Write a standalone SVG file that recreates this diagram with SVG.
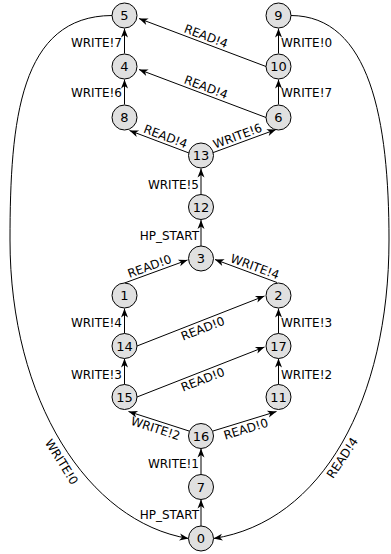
<svg xmlns="http://www.w3.org/2000/svg" width="391" height="554" viewBox="0 0 391 554">
<style>
.n circle{fill:#e0e0e0;stroke:#000;stroke-width:1}
.n text{font-family:"DejaVu Sans",sans-serif;font-size:13px;text-anchor:middle;fill:#000}
.e path,.e line{stroke:#000;stroke-width:1;fill:none;marker-end:url(#ah)}
.l{font-family:"DejaVu Sans",sans-serif;font-size:12px;fill:#000}
.r{text-anchor:end}
.m{text-anchor:middle}
</style>
<defs>
<marker id="ah" viewBox="-10 -5 11 10" refX="0" refY="0" markerWidth="11" markerHeight="10" markerUnits="userSpaceOnUse" orient="auto">
<path d="M0,0 L-9,-3.5 L-6.5,0 L-9,3.5 z" fill="#000"/>
</marker>
</defs>
<rect width="391" height="554" fill="#fff"/>
<g id="edges" class="e">
<line x1="124.5" y1="53.5" x2="124.5" y2="28.5"/>
<line x1="124.5" y1="104.5" x2="124.5" y2="79.5"/>
<line x1="278.5" y1="53.5" x2="278.5" y2="28.5"/>
<line x1="278.5" y1="104.5" x2="278.5" y2="79.5"/>
<line x1="201" y1="194.5" x2="201" y2="168.5"/>
<line x1="201" y1="246" x2="201" y2="220"/>
<line x1="124.5" y1="333.5" x2="124.5" y2="308.5"/>
<line x1="124.5" y1="384.5" x2="124.5" y2="358.5"/>
<line x1="278.5" y1="333.5" x2="278.5" y2="308.5"/>
<line x1="278.5" y1="384.5" x2="278.5" y2="358.5"/>
<line x1="201" y1="474.5" x2="201" y2="448.5"/>
<line x1="201" y1="526" x2="201" y2="499.5"/>
<line x1="266" y1="66.5" x2="139" y2="18.5"/>
<line x1="266" y1="117.5" x2="139" y2="69.5"/>
<line x1="189" y1="153" x2="129.5" y2="130.5"/>
<line x1="212" y1="153" x2="276" y2="129.5"/>
<line x1="124.5" y1="283" x2="187.5" y2="260"/>
<line x1="277" y1="282.5" x2="215" y2="259.5"/>
<line x1="137" y1="346" x2="264.5" y2="296"/>
<line x1="137" y1="397" x2="264.5" y2="347"/>
<line x1="189" y1="431" x2="128.5" y2="411.5"/>
<line x1="213" y1="431" x2="276.5" y2="411.5"/>
<path d="M112,15.5 C20,16 10,120 10,240 C10,400 88,522 188.5,538.5"/>
<path d="M291,15.5 C370,16 389,120 389,240 C389,400 322,522 213.5,538.5"/>
</g>
<g id="edge-labels">
<text class="l r" x="122" y="47">WRITE!7</text>
<text class="l r" x="122" y="97">WRITE!6</text>
<text class="l" x="281" y="47">WRITE!0</text>
<text class="l" x="281" y="97">WRITE!7</text>
<text class="l r" x="199" y="189">WRITE!5</text>
<text class="l r" x="199" y="240">HP_START</text>
<text class="l r" x="122" y="327">WRITE!4</text>
<text class="l r" x="122" y="379">WRITE!3</text>
<text class="l" x="281" y="327">WRITE!3</text>
<text class="l" x="281" y="379">WRITE!2</text>
<text class="l r" x="199" y="468">WRITE!1</text>
<text class="l r" x="199" y="519">HP_START</text>
<text class="l m" transform="translate(203.5,42.9) rotate(20.7)" y="-3">READ!4</text>
<text class="l m" transform="translate(203.5,93.9) rotate(20.7)" y="-3">READ!4</text>
<text class="l m" transform="translate(163,143.2) rotate(20.7)" y="-3">READ!4</text>
<text class="l m" transform="translate(240,142.7) rotate(-20.3)" y="-3">WRITE!6</text>
<text class="l m" transform="translate(152,273) rotate(-20)" y="-3">READ!0</text>
<text class="l m" transform="translate(252.5,273.4) rotate(20.3)" y="-3">WRITE!4</text>
<text class="l m" transform="translate(200,321.3) rotate(-21.4)" y="12">READ!0</text>
<text class="l m" transform="translate(200,372.3) rotate(-21.4)" y="12">READ!0</text>
<text class="l m" transform="translate(158,421) rotate(17.9)" y="12">WRITE!2</text>
<text class="l m" transform="translate(243.5,421.6) rotate(-17.1)" y="12">READ!0</text>
<text class="l m" transform="translate(61.5,462) rotate(58)" y="4">WRITE!0</text>
<text class="l m" transform="translate(342.5,458) rotate(-56)" y="4">READ!4</text>
</g>
<g id="n5" class="n"><circle cx="124.5" cy="15.5" r="12.5"/><text x="124.5" y="20.2">5</text></g>
<g id="n9" class="n"><circle cx="278.5" cy="15.5" r="12.5"/><text x="278.5" y="20.2">9</text></g>
<g id="n4" class="n"><circle cx="124.5" cy="66.5" r="12.5"/><text x="124.5" y="71.2">4</text></g>
<g id="n10" class="n"><circle cx="278.5" cy="66.5" r="12.5"/><text x="278.5" y="71.2">10</text></g>
<g id="n8" class="n"><circle cx="124.5" cy="117.5" r="12.5"/><text x="124.5" y="122.2">8</text></g>
<g id="n6" class="n"><circle cx="278.5" cy="117.5" r="12.5"/><text x="278.5" y="122.2">6</text></g>
<g id="n13" class="n"><circle cx="201" cy="155.5" r="12.5"/><text x="201" y="160.2">13</text></g>
<g id="n12" class="n"><circle cx="201" cy="207" r="12.5"/><text x="201" y="211.7">12</text></g>
<g id="n3" class="n"><circle cx="201" cy="258.5" r="12.5"/><text x="201" y="263.2">3</text></g>
<g id="n1" class="n"><circle cx="124.5" cy="295.5" r="12.5"/><text x="124.5" y="300.2">1</text></g>
<g id="n2" class="n"><circle cx="278.5" cy="295.5" r="12.5"/><text x="278.5" y="300.2">2</text></g>
<g id="n14" class="n"><circle cx="124.5" cy="346" r="12.5"/><text x="124.5" y="350.7">14</text></g>
<g id="n17" class="n"><circle cx="278.5" cy="346" r="12.5"/><text x="278.5" y="350.7">17</text></g>
<g id="n15" class="n"><circle cx="124.5" cy="397" r="12.5"/><text x="124.5" y="401.7">15</text></g>
<g id="n11" class="n"><circle cx="278.5" cy="397" r="12.5"/><text x="278.5" y="401.7">11</text></g>
<g id="n16" class="n"><circle cx="201" cy="436" r="12.5"/><text x="201" y="440.7">16</text></g>
<g id="n7" class="n"><circle cx="201" cy="487" r="12.5"/><text x="201" y="491.7">7</text></g>
<g id="n0" class="n"><circle cx="201" cy="538.5" r="12.5"/><text x="201" y="543.2">0</text></g>
</svg>
